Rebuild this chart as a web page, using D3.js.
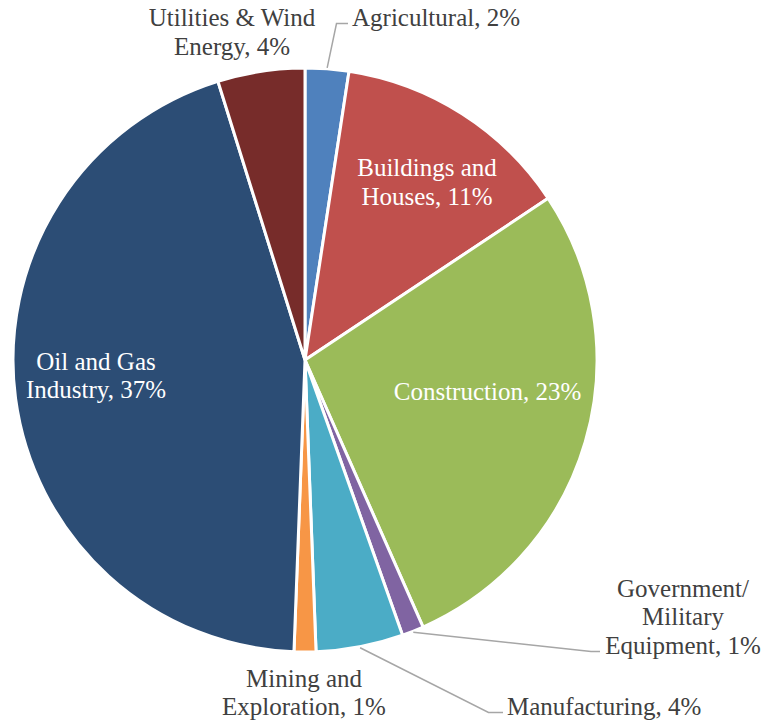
<!DOCTYPE html>
<html>
<head>
<meta charset="utf-8">
<script src="https://cdn.jsdelivr.net/npm/d3@7/dist/d3.min.js"></script>
<style>
  html, body { margin: 0; padding: 0; background: #ffffff; }
  svg { display: block; }
  text { font-family: "Liberation Serif", "Times New Roman", serif; font-size: 25px; }
</style>
</head>
<body>
<svg id="chart" width="764" height="721"></svg>
<script>
// Sector names, split into the lines they are printed on
const categoryLines = [
  ["Agricultural"],
  ["Buildings and", "Houses"],
  ["Construction"],
  ["Government/", "Military", "Equipment"],
  ["Manufacturing"],
  ["Mining and", "Exploration"],
  ["Oil and Gas", "Industry"],
  ["Utilities & Wind", "Energy"]
];

// Share of each sector, in percent
const shares = [2, 11, 23, 1, 4, 1, 37, 4];

// Slice fills
const sliceColors = ["#4F81BD", "#C0504D", "#9BBB59", "#8064A2", "#4BACC6", "#F79646", "#2C4D75", "#772C2A"];

// Label placement: anchor point of the first text line, text alignment,
// colour, and (for outside labels) the elbow and end of the leader line
const labelLayout = [
  { x: 352, y: 26,  anchor: "start",  fill: "#404040", elbow: [336.5, 23.5], end: [348, 23.5] },
  { x: 427, y: 176, anchor: "middle", fill: "#ffffff" },
  { x: 487.5, y: 399.5, anchor: "middle", fill: "#ffffff" },
  { x: 683, y: 596.5, anchor: "middle", fill: "#404040", elbow: [591, 651.5], end: [600, 651.5] },
  { x: 507, y: 715, anchor: "start",  fill: "#404040", elbow: [488.5, 712.5], end: [503, 712.5] },
  { x: 304, y: 686.5, anchor: "middle", fill: "#404040" },
  { x: 96,  y: 369.5, anchor: "middle", fill: "#ffffff" },
  { x: 232, y: 26,  anchor: "middle", fill: "#404040" }
];

const cx = 305, cy = 360, radius = 292, lineHeight = 28.7;

const svg = d3.select("#chart");
const g = svg.append("g").attr("transform", `translate(${cx},${cy})`);

const pie = d3.pie().sort(null).value(d => d.value);
const arc = d3.arc().innerRadius(0).outerRadius(radius);
const edgeArc = d3.arc().innerRadius(radius + 1).outerRadius(radius + 1);

const data = shares.map((v, i) => ({ index: i, value: v, lines: categoryLines[i] }));
const arcs = pie(data);

// Slices
g.selectAll("path.slice")
  .data(arcs)
  .join("path")
  .attr("class", "slice")
  .attr("d", arc)
  .attr("fill", d => sliceColors[d.data.index])
  .attr("stroke", "#ffffff")
  .attr("stroke-width", 3)
  .attr("stroke-linejoin", "round");

// Leader lines for labels placed outside the pie
arcs.forEach(d => {
  const lay = labelLayout[d.data.index];
  if (!lay.elbow) return;
  const p0 = edgeArc.centroid(d);
  const pts = [[p0[0] + cx, p0[1] + cy], lay.elbow, lay.end];
  svg.append("path")
    .attr("d", d3.line()(pts))
    .attr("fill", "none")
    .attr("stroke", "#A6A6A6")
    .attr("stroke-width", 1.5);
});

// Data labels: category name followed by its share
arcs.forEach(d => {
  const lay = labelLayout[d.data.index];
  const lines = d.data.lines.slice();
  lines[lines.length - 1] = lines[lines.length - 1] + ", " + d.data.value + "%";
  const t = svg.append("text")
    .attr("x", lay.x)
    .attr("y", lay.y)
    .attr("text-anchor", lay.anchor)
    .attr("fill", lay.fill);
  lines.forEach((ln, k) => {
    t.append("tspan")
      .attr("x", lay.x)
      .attr("y", lay.y + k * lineHeight)
      .text(ln);
  });
});
</script>
</body>
</html>
